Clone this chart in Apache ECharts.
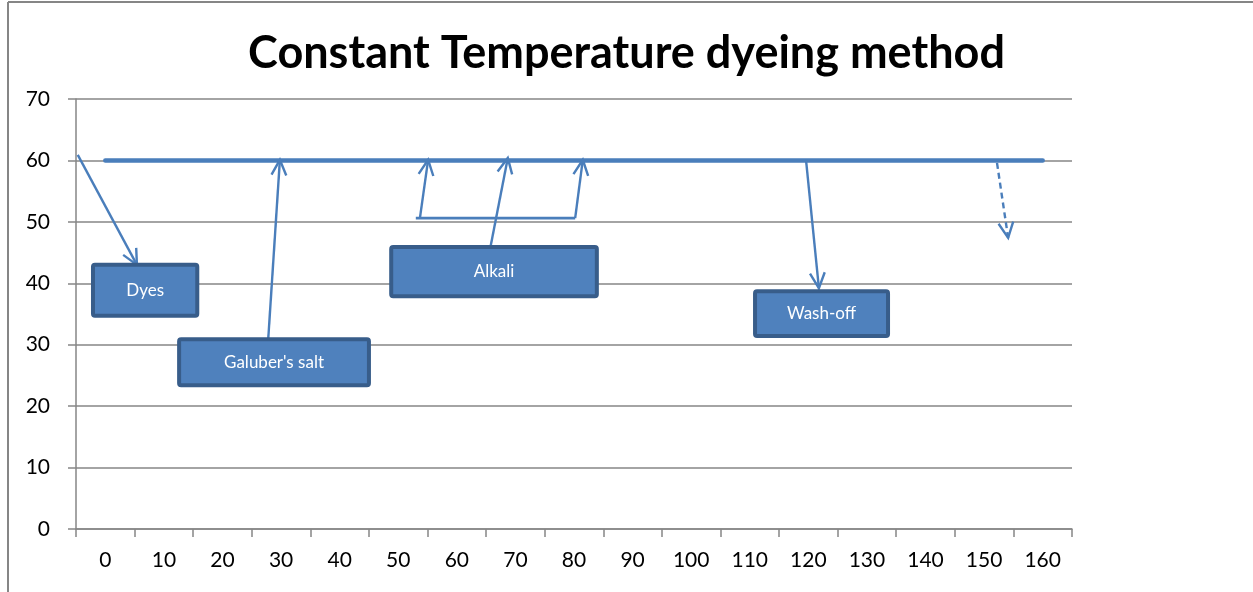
<!DOCTYPE html>
<html>
<head>
<meta charset="utf-8">
<script src="https://cdn.jsdelivr.net/npm/echarts@6/dist/echarts.min.js"></script>
<style>html,body{margin:0;padding:0;background:#fff}#c{width:1253px;height:592px}</style>
</head>
<body>
<div id="c"></div>
<script>
// ---- data ----
const categories = ['0','10','20','30','40','50','60','70','80','90','100','110','120','130','140','150','160'];
const temperature = [60,60,60,60,60,60,60,60,60,60,60,60,60,60,60,60,60];
const yTicks = [0,10,20,30,40,50,60,70];
const titleText = 'Constant Temperature dyeing method';
// annotation boxes in (minutes, °C)
const boxLabels = ['Dyes', "Galuber's salt", 'Alkali', 'Wash-off'];
const boxX0 = [-2.1, 12.6, 48.8, 110.9];
const boxX1 = [15.7, 45.0, 83.9, 133.6];
const boxYTop = [43.0, 30.9, 45.9, 38.7];
const boxYBot = [34.7, 23.4, 37.9, 31.4];
// arrows [fromMin, fromTemp, toMin, toTemp]
const arrowFromX = [-4.7, 27.8, 53.7, 65.7, 80.2, 119.6];
const arrowFromY = [60.9, 30.8, 50.6, 45.7, 50.6, 60.1];
const arrowToX   = [5.4, 29.8, 55.1, 68.7, 81.5, 121.8];
const arrowToY   = [43.0, 60.1, 60.1, 60.4, 60.1, 39.2];
const dashedArrow = [152.2, 59.6, 154.1, 47.4];
const bracket = [53.0, 50.6, 80.2, 50.6];

const chart = echarts.init(document.getElementById('c'));
const axisGray = '#868686';
const blue = '#4A7EBB';
const FONT = 'Lato';

chart.setOption({
  animation: false,
  title: {
    text: titleText, left: 'center', top: 26,
    textStyle: {fontFamily: FONT, fontWeight: 'bold', fontSize: 45, color: '#000'}
  },
  grid: {left: 76, right: 181, top: 99, bottom: 63},
  xAxis: [{
    type: 'category', data: categories, boundaryGap: true,
    axisLine: {onZero: false, lineStyle: {color: axisGray, width: 1.5}},
    axisTick: {show: true, length: 8, alignWithLabel: false, lineStyle: {color: axisGray, width: 1.5}},
    axisLabel: {color: '#000', fontSize: 21, fontFamily: FONT, margin: 21, interval: 0},
    splitLine: {show: false}
  }, {
    type: 'value', min: -5, max: 165, show: false
  }],
  yAxis: {
    type: 'value', min: 0, max: 70, interval: 10,
    axisLine: {show: true, onZero: false, lineStyle: {color: axisGray, width: 1.5}},
    axisTick: {show: true, length: 8, lineStyle: {color: axisGray, width: 1.5}},
    axisLabel: {color: '#000', fontSize: 21, fontFamily: FONT, margin: 26},
    splitLine: {lineStyle: {color: axisGray, width: 1.5}}
  },
  series: [{
    type: 'line', data: temperature, xAxisIndex: 0, yAxisIndex: 0,
    symbol: 'none', lineStyle: {color: blue, width: 4.5, cap: 'round'}
  }]
});

function px(x, y) { return chart.convertToPixel({xAxisIndex: 1, yAxisIndex: 0}, [x, y]); }
const g = [];
// frame
g.push({type: 'line', shape: {x1: 8, y1: 2, x2: 8, y2: 592}, style: {stroke: axisGray, lineWidth: 2}});
g.push({type: 'line', shape: {x1: 8, y1: 2, x2: 1253, y2: 2}, style: {stroke: axisGray, lineWidth: 2}});

function arrow(x0, y0, x1, y1, dash) {
  const a = px(x0, y0), b = px(x1, y1);
  const ang = Math.atan2(b[1] - a[1], b[0] - a[0]);
  const L = 17, th = 0.45;
  const style = {stroke: blue, lineWidth: 2.4, fill: null};
  if (dash) style.lineDash = [6, 4];
  g.push({type: 'line', z: 10, shape: {x1: a[0], y1: a[1], x2: b[0], y2: b[1]}, style: style});
  g.push({type: 'polyline', z: 10, shape: {points: [
    [b[0] - L * Math.cos(ang - th), b[1] - L * Math.sin(ang - th)], b,
    [b[0] - L * Math.cos(ang + th), b[1] - L * Math.sin(ang + th)]]},
    style: {stroke: blue, lineWidth: 2.4, fill: null}});
}
for (let i = 0; i < arrowFromX.length; i++) arrow(arrowFromX[i], arrowFromY[i], arrowToX[i], arrowToY[i], false);
arrow(dashedArrow[0], dashedArrow[1], dashedArrow[2], dashedArrow[3], true);
{
  const a = px(bracket[0], bracket[1]), b = px(bracket[2], bracket[3]);
  g.push({type: 'line', z: 10, shape: {x1: a[0], y1: a[1], x2: b[0], y2: b[1]}, style: {stroke: blue, lineWidth: 2.6}});
}
for (let i = 0; i < boxLabels.length; i++) {
  const a = px(boxX0[i], boxYTop[i]), b = px(boxX1[i], boxYBot[i]);
  g.push({type: 'rect', z: 20, shape: {x: a[0], y: a[1], width: b[0] - a[0], height: b[1] - a[1], r: 2},
    style: {fill: '#4F81BD', stroke: '#385D8A', lineWidth: 4}});
  g.push({type: 'text', z: 21, x: (a[0] + b[0]) / 2, y: (a[1] + b[1]) / 2,
    style: {text: boxLabels[i], fill: '#fff', font: '17px ' + FONT, align: 'center', verticalAlign: 'middle'}});
}
chart.setOption({graphic: g});
</script>
</body>
</html>
